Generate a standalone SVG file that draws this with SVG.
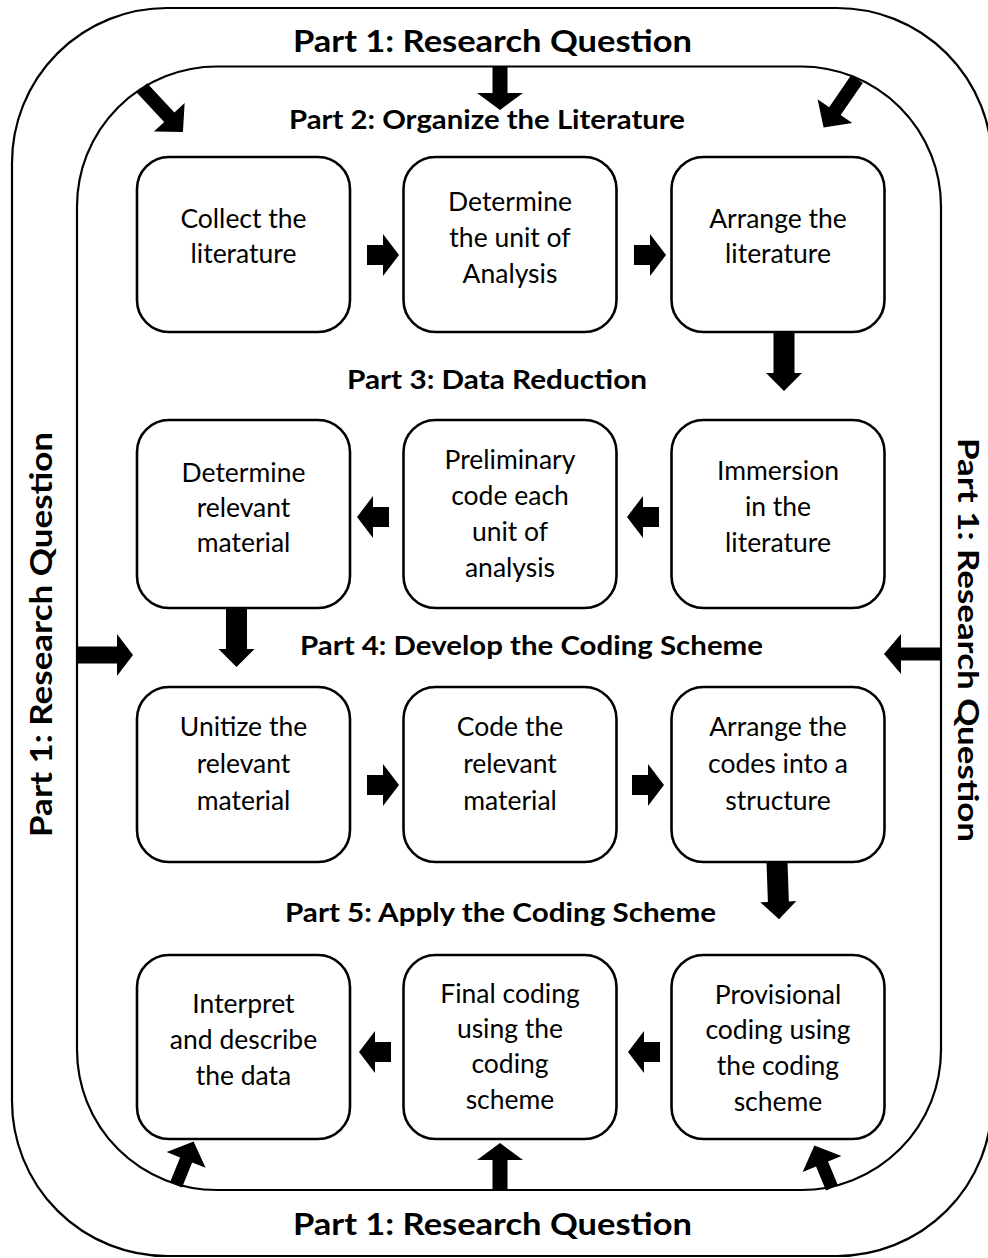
<svg xmlns="http://www.w3.org/2000/svg" xmlns:xlink="http://www.w3.org/1999/xlink" width="988" height="1258" viewBox="0 0 988 1258">
  <style>
    .frame { fill: none; stroke: #000; stroke-width: 2.2; }
    .box { fill: #fff; stroke: #000; stroke-width: 2.6; }
    .arr { fill: #000; stroke: none; }
    .title { font-family: Lato, "Liberation Sans", sans-serif; font-weight: bold; fill: #000; text-anchor: middle; }
    .t1 { font-size: 31px; }
    .t2 { font-size: 26px; }
    .lbl { font-family: Lato, "Liberation Sans", sans-serif; font-size: 26.5px; fill: #000; text-anchor: middle; }
  </style>
  <defs>
    <!-- short block arrow between neighbouring boxes, pointing along +x from its tail -->
    <path id="step" d="M0,-10 H16 V-21 L32,0 L16,21 V10 H0 Z"/>
    <!-- longer block arrow joining one row to the next, pointing along +x -->
    <path id="drop" d="M0,-10.5 H41 V-18 L59,0 L41,18 V10.5 H0 Z"/>
  </defs>
  <rect width="988" height="1258" fill="#fff"/>

  <!-- outer and inner rounded frames -->
  <g id="frames">
    <rect class="frame" x="12" y="8" width="980" height="1248" rx="155" ry="155"/>
    <rect class="frame" x="77" y="66.5" width="864" height="1123.5" rx="140" ry="140"/>
  </g>

  <!-- part headings -->
  <g id="headings">
    <text class="title t1" x="492.5" y="52" textLength="399" lengthAdjust="spacingAndGlyphs">Part 1: Research Question</text>
    <text class="title t1" x="492.5" y="1235" textLength="399" lengthAdjust="spacingAndGlyphs">Part 1: Research Question</text>
    <text class="title t1" transform="translate(52,634.5) rotate(-90)" textLength="405" lengthAdjust="spacingAndGlyphs">Part 1: Research Question</text>
    <text class="title" font-size="29" transform="translate(958,640) rotate(90)" textLength="404" lengthAdjust="spacingAndGlyphs">Part 1: Research Question</text>
    <text class="title t2" x="487" y="129" textLength="396" lengthAdjust="spacingAndGlyphs">Part 2: Organize the Literature</text>
    <text class="title t2" x="497" y="389" textLength="300" lengthAdjust="spacingAndGlyphs">Part 3: Data Reduction</text>
    <text class="title t2" x="531.5" y="655" textLength="463" lengthAdjust="spacingAndGlyphs">Part 4: Develop the Coding Scheme</text>
    <text class="title t2" x="500.5" y="922" textLength="431" lengthAdjust="spacingAndGlyphs">Part 5: Apply the Coding Scheme</text>
  </g>

  <!-- row 1 -->
  <g id="collect">
    <rect class="box" x="137" y="157" width="213" height="175" rx="32"/>
    <text class="lbl"><tspan x="243.5" y="228">Collect the</tspan><tspan x="243.5" y="263">literature</tspan></text>
  </g>
  <g id="unit">
    <rect class="box" x="403.5" y="157" width="213" height="175" rx="32"/>
    <text class="lbl"><tspan x="510" y="211">Determine</tspan><tspan x="510" y="247">the unit of</tspan><tspan x="510" y="283">Analysis</tspan></text>
  </g>
  <g id="arrange-lit">
    <rect class="box" x="671.5" y="157" width="213" height="175" rx="32"/>
    <text class="lbl"><tspan x="778" y="228">Arrange the</tspan><tspan x="778" y="263">literature</tspan></text>
  </g>

  <!-- row 2 -->
  <g id="relevant">
    <rect class="box" x="137" y="420" width="213" height="188" rx="32"/>
    <text class="lbl"><tspan x="243.5" y="482">Determine</tspan><tspan x="243.5" y="517">relevant</tspan><tspan x="243.5" y="552">material</tspan></text>
  </g>
  <g id="preliminary">
    <rect class="box" x="403.5" y="420" width="213" height="188" rx="32"/>
    <text class="lbl"><tspan x="510" y="469">Preliminary</tspan><tspan x="510" y="505">code each</tspan><tspan x="510" y="541">unit of</tspan><tspan x="510" y="577">analysis</tspan></text>
  </g>
  <g id="immersion">
    <rect class="box" x="671.5" y="420" width="213" height="188" rx="32"/>
    <text class="lbl"><tspan x="778" y="480">Immersion</tspan><tspan x="778" y="516">in the</tspan><tspan x="778" y="552">literature</tspan></text>
  </g>

  <!-- row 3 -->
  <g id="unitize">
    <rect class="box" x="137" y="687" width="213" height="175" rx="32"/>
    <text class="lbl"><tspan x="243.5" y="736">Unitize the</tspan><tspan x="243.5" y="773">relevant</tspan><tspan x="243.5" y="810">material</tspan></text>
  </g>
  <g id="code">
    <rect class="box" x="403.5" y="687" width="213" height="175" rx="32"/>
    <text class="lbl"><tspan x="510" y="736">Code the</tspan><tspan x="510" y="773">relevant</tspan><tspan x="510" y="810">material</tspan></text>
  </g>
  <g id="structure">
    <rect class="box" x="671.5" y="687" width="213" height="175" rx="32"/>
    <text class="lbl"><tspan x="778" y="736">Arrange the</tspan><tspan x="778" y="773">codes into a</tspan><tspan x="778" y="810">structure</tspan></text>
  </g>

  <!-- row 4 -->
  <g id="interpret">
    <rect class="box" x="137" y="955" width="213" height="184" rx="32"/>
    <text class="lbl"><tspan x="243.5" y="1013">Interpret</tspan><tspan x="243.5" y="1049">and describe</tspan><tspan x="243.5" y="1085">the data</tspan></text>
  </g>
  <g id="final">
    <rect class="box" x="403.5" y="955" width="213" height="184" rx="32"/>
    <text class="lbl"><tspan x="510" y="1003">Final coding</tspan><tspan x="510" y="1038">using the</tspan><tspan x="510" y="1073">coding</tspan><tspan x="510" y="1109">scheme</tspan></text>
  </g>
  <g id="provisional">
    <rect class="box" x="671.5" y="955" width="213" height="184" rx="32"/>
    <text class="lbl"><tspan x="778" y="1004">Provisional</tspan><tspan x="778" y="1039">coding using</tspan><tspan x="778" y="1075">the coding</tspan><tspan x="778" y="1111">scheme</tspan></text>
  </g>

  <!-- connectors -->
  <g id="connectors" class="arr">
    <!-- steps within each row -->
    <use xlink:href="#step" transform="translate(367,255)"/>
    <use xlink:href="#step" transform="translate(634,255)"/>
    <use xlink:href="#step" transform="translate(659,517) rotate(180)"/>
    <use xlink:href="#step" transform="translate(389,517) rotate(180)"/>
    <use xlink:href="#step" transform="translate(367,785)"/>
    <use xlink:href="#step" transform="translate(632,785)"/>
    <use xlink:href="#step" transform="translate(660,1052) rotate(180)"/>
    <use xlink:href="#step" transform="translate(391,1052) rotate(180)"/>
    <!-- row to row -->
    <use xlink:href="#drop" transform="translate(784,332) rotate(90)"/>
    <use xlink:href="#drop" transform="translate(236.5,608) rotate(90)"/>
    <use xlink:href="#drop" transform="translate(777,862) rotate(88) scale(0.97,1)"/>
    <!-- research question feeding inwards from the outer ring -->
    <path transform="translate(142,88) rotate(47)" d="M0,-7 H40 V-21 L60,0 L40,21 V7 H0 Z"/>
    <path transform="translate(500,66) rotate(90)" d="M0,-7.5 H27 V-23 L44,0 L27,23 V7.5 H0 Z"/>
    <path transform="translate(857,79) rotate(124.5)" d="M0,-7 H39 V-21 L59,0 L39,21 V7 H0 Z"/>
    <path transform="translate(77,655)" d="M0,-8.5 H40 V-21 L56,0 L40,21 V8.5 H0 Z"/>
    <path transform="translate(942,654)" d="M0,-6.5 H-41 V-20 L-58,0 L-41,20 V6.5 H0 Z"/>
    <path transform="translate(176,1185) rotate(-68)" d="M0,-6.5 H27 V-21 L47,0 L27,21 V6.5 H0 Z"/>
    <path transform="translate(500,1191) rotate(-90)" d="M0,-7.5 H31 V-23 L48,0 L31,23 V7.5 H0 Z"/>
    <path transform="translate(832,1188) rotate(-112.5)" d="M0,-6.5 H26 V-21 L46,0 L26,21 V6.5 H0 Z"/>
  </g>
</svg>
